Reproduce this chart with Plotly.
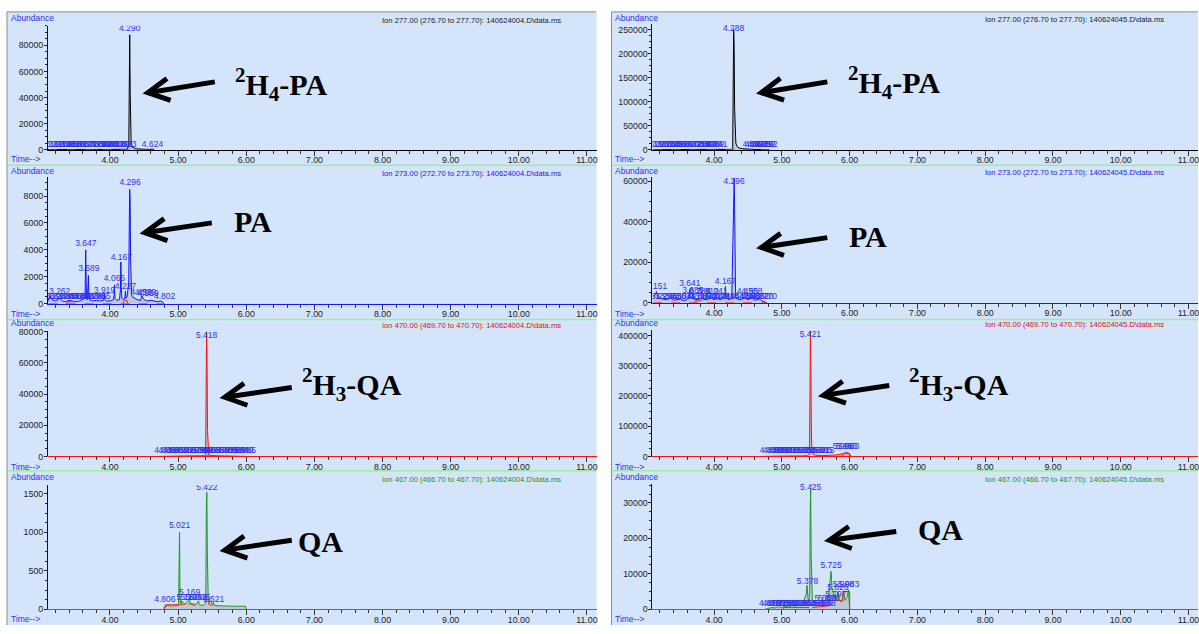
import math
import plotly.graph_objects as go

W, H = 1199, 634

# ---------------- data (time / min, abundance) ----------------
FILE_L = r"140624004.D\data.ms"
FILE_R = r"140624045.D\data.ms"
IONS = ["Ion 277.00 (276.70 to 277.70)", "Ion 273.00 (272.70 to 273.70)",
        "Ion 470.00 (469.70 to 470.70)", "Ion 467.00 (466.70 to 467.70)"]
COMPOUNDS = ["<sup>2</sup>H<sub>4</sub>-PA", "PA", "<sup>2</sup>H<sub>3</sub>-QA", "QA"]

L1_pts = [(3.09,200),(3.15,400),(3.20,250),(3.30,300),(3.40,200),(3.50,350),(3.60,250),(3.70,300),
          (3.80,200),(3.90,300),(4.00,250),(4.10,300),(4.20,350),(4.25,500),(4.276,3000),(4.283,27000),
          (4.290,88000),(4.297,43000),(4.304,9000),(4.311,4000),(4.32,2500),(4.34,1600),(4.37,1000),
          (4.41,700),(4.46,500),(4.52,400),(4.58,350),(4.624,600),(4.65,0)]
L2_pts = [(3.09,200),(3.12,600),(3.15,300),(3.20,200),(3.26,400),(3.30,200),(3.35,150),(3.40,250),
          (3.45,200),(3.50,150),(3.55,200),(3.60,300),(3.63,400),(3.637,1200),(3.644,4000),(3.651,1500),
          (3.658,400),(3.67,300),(3.676,900),(3.683,2100),(3.690,700),(3.70,300),(3.72,250),(3.75,200),
          (3.80,250),(3.85,200),(3.90,250),(3.912,400),(3.919,700),(3.926,300),(3.95,200),(4.00,200),
          (4.05,300),(4.059,600),(4.066,1400),(4.073,400),(4.10,250),(4.14,300),(4.153,1000),(4.160,3100),
          (4.167,1200),(4.174,400),(4.19,300),(4.21,350),(4.220,500),(4.227,950),(4.234,400),(4.25,500),
          (4.275,1500),(4.282,4900),(4.289,8500),(4.296,7800),(4.303,3300),(4.310,1200),(4.317,700),
          (4.33,500),(4.36,400),(4.40,300),(4.45,250),(4.459,400),(4.466,600),(4.50,300),(4.55,200),
          (4.60,250),(4.65,200),(4.70,150),(4.75,200),(4.80,0)]
L3_pts = [(4.70,0),(4.80,300),(4.90,200),(5.00,300),(5.10,250),(5.20,300),(5.30,350),(5.38,500),
          (5.404,1500),(5.411,40000),(5.418,80000),(5.425,60000),(5.432,16000),(5.439,3000),(5.45,1200),
          (5.48,700),(5.52,500),(5.60,400),(5.70,350),(5.80,300),(5.90,300),(6.00,300),(6.05,0)]
L4_pts = [(4.79,0),(4.80,40),(4.85,50),(4.90,40),(4.95,45),(5.00,50),(5.007,80),(5.014,600),(5.021,1000),
          (5.028,150),(5.035,90),(5.05,70),(5.08,60),(5.12,80),(5.16,130),(5.169,160),(5.176,90),(5.20,60),
          (5.25,50),(5.30,110),(5.31,60),(5.35,50),(5.38,60),(5.401,80),(5.408,330),(5.415,1390),
          (5.422,1520),(5.429,730),(5.436,150),(5.443,80),(5.46,60),(5.50,50),(5.521,90),(5.53,50),
          (5.60,45),(5.70,40),(5.80,40),(5.90,40),(5.99,40),(6.00,0)]
R1_pts = [(3.10,500),(3.20,900),(3.30,600),(3.40,800),(3.50,700),(3.60,900),(3.70,700),(3.80,800),
          (3.90,700),(4.00,900),(4.10,800),(4.20,900),(4.26,1000),(4.274,2000),(4.281,102000),
          (4.288,250000),(4.295,219000),(4.302,88000),(4.309,32000),(4.32,14000),(4.34,7000),(4.37,4000),
          (4.42,2500),(4.50,1500),(4.60,1000),(4.70,700),(4.80,500),(4.82,0)]
R2_pts = [(3.10,3000),(3.13,4000),(3.151,5500),(3.17,2500),(3.22,2000),(3.30,1500),(3.36,2500),(3.40,1200),
          (3.50,1800),(3.55,1000),(3.60,1500),(3.634,3000),(3.641,6500),(3.648,2500),(3.678,2500),
          (3.685,4500),(3.692,2000),(3.75,1500),(3.80,2000),(3.90,1500),(3.95,2500),(4.00,1500),(4.05,2000),
          (4.10,1500),(4.160,3000),(4.167,8000),(4.174,2500),(4.22,1500),(4.26,2000),(4.282,37000),
          (4.289,47000),(4.296,61500),(4.303,46700),(4.310,12000),(4.317,3000),(4.33,2000),(4.40,1500),
          (4.456,2500),(4.50,1500),(4.558,2500),(4.60,1200),(4.67,1800),(4.70,1000),(4.78,0)]
R3_pts = [(4.70,0),(4.80,1500),(4.90,1000),(5.00,1500),(5.10,1200),(5.20,1500),(5.30,2000),(5.38,3000),
          (5.407,8000),(5.414,193000),(5.421,415000),(5.428,307000),(5.435,81000),(5.442,22000),(5.46,8000),
          (5.50,4000),(5.60,3000),(5.70,3500),(5.80,5000),(5.90,9000),(5.95,14000),(5.98,12000),(6.00,8000),
          (6.02,0)]
R4_pts = [(4.75,0),(4.80,300),(4.85,500),(4.90,400),(4.95,700),(5.00,500),(5.05,900),(5.10,600),(5.15,1200),
          (5.20,800),(5.25,1500),(5.30,1000),(5.33,2500),(5.36,4500),(5.371,6800),(5.385,3000),(5.40,2500),
          (5.411,6000),(5.418,28000),(5.425,33800),(5.432,15300),(5.439,4000),(5.45,2500),(5.50,1500),
          (5.55,1800),(5.60,2000),(5.65,2500),(5.69,4000),(5.71,8000),(5.725,10700),(5.74,6000),(5.76,4000),
          (5.78,3000),(5.797,4000),(5.81,2500),(5.826,5000),(5.85,2500),(5.88,2000),(5.908,5200),(5.93,2500),
          (5.96,3500),(5.983,5500),(5.995,3000),(6.00,0)]

# integration baselines (red), None = break
L1_red = [(3.10,0),(4.65,0)]
L2_red = [(3.10,0),(4.80,0),None,(3.35,0),(3.40,150),(3.50,150),(3.52,0),None,(4.19,0),(4.21,250),(4.25,250),(4.26,0)]
L3_red = [(5.40,0),(5.40,500),(5.50,500),(5.50,0)]
L4_red = [(4.80,0),(4.82,60),(5.05,60),(5.05,110),(5.10,60),None,(5.15,70),(5.25,70),None,(5.45,60),(5.46,130),(5.50,60)]
R1_red = [(3.10,0),(4.82,0)]
R2_red = [(3.10,0),(4.78,0),None,(3.70,0),(3.72,900),(3.90,900),(3.92,0)]
R3_red = [(5.90,0),(5.90,9000),(6.00,9000),(6.00,0)]
R4_red = [(5.02,0),(5.02,500),(5.40,500),None,(5.45,500),(5.70,1000),(5.70,2500),(5.90,2500),(5.90,5000),(6.00,5000),(6.00,0)]

# retention-time labels (rt, label height)
L1_labels = [(4.290,92500),(4.624,3800)] + [(t,3800) for t in
             [3.162,3.211,3.263,3.314,3.365,3.418,3.469,3.521,3.572,3.624,3.676,3.727,3.779,3.830,3.882,3.934,3.985,4.037,4.088,4.140,4.191,4.233]]
L2_labels = [(3.647,4470),(3.689,2560),(3.919,950),(4.066,1830),(4.167,3440),(4.227,1250),(4.296,9010),
             (4.459,800),(4.519,800),(4.559,700),(4.802,510),(3.262,880)] + [(t,510) for t in
             [3.151,3.210,3.269,3.331,3.389,3.447,3.506,3.563,3.621,3.680,3.738,3.796,3.855]]
L3_labels = [(5.418,77600)] + [(t,3300) for t in
             [4.806,4.866,4.925,4.987,5.046,5.108,5.167,5.229,5.288,5.349,5.388,5.468,5.527,5.589,5.648,5.709,5.768,5.829,5.888,5.949,5.985]]
L4_labels = [(5.021,1086),(5.422,1577),(4.806,128),(5.169,209),(5.131,145),(5.193,145),(5.263,145),(5.315,145),(5.521,128)]
R1_labels = [(4.288,252000)] + [(t,10900) for t in
             [3.151,3.201,3.251,3.302,3.356,3.409,3.461,3.514,3.567,3.620,3.672,3.725,3.778,3.830,3.883,3.936,3.989,4.041,
              4.577,4.612,4.648,4.683,4.719,4.752,4.782]]
R2_labels = [(4.296,60000),(3.151,7950),(3.641,9270),(3.685,5850),(4.167,10400),(3.785,5400),(3.912,5400),(4.041,5400),
             (4.490,5370),(4.558,5370)] + [(t,3070) for t in
             [3.223,3.290,3.363,3.430,3.504,3.571,3.738,3.806,3.873,3.941,4.012,4.078,4.146,4.213,4.426,4.456,4.523,4.588,4.652,4.720,4.770]]
R3_labels = [(5.421,403000),(5.908,32500),(5.953,32500),(5.983,32500)] + [(t,19500) for t in
             [4.830,4.880,4.935,4.990,5.045,5.100,5.155,5.210,5.265,5.320,5.375,5.480,5.530,5.585,5.615]]
R4_labels = [(5.425,34200),(5.378,7780),(5.725,12200),(5.826,5900),(5.797,4200),(5.908,7000),(5.983,7000),
             (5.640,2800),(5.690,2800)] + [(t,1500) for t in
             [4.820,4.870,4.922,4.975,5.028,5.080,5.133,5.186,5.238,5.291,5.344,5.480,5.533,5.586,5.638]]

# ---------------- styling ----------------
BG = "#d4e4fa"
SEP = "#9cee9c"
LABEL_BLUE = "#3232ee"
ROW_COLORS = ["#000000", "#1414ff", "#ff1010", "#1f9a1f"]
TITLE_COLORS = ["#202020", "#2020e0", "#e01010", "#1f8f1f"]
SANS = "Liberation Sans, Arial, sans-serif"
SERIF = "Liberation Serif"
FS_TICK = 8.8
FS_LAB = 8.5
FS_TITLE = 7.6

panels = [
    dict(pts=L1_pts, red=L1_red, labels=L1_labels, col=0, row=0, ymax=95000, dtick=20000),
    dict(pts=L2_pts, red=L2_red, labels=L2_labels, col=0, row=1, ymax=9450, dtick=2000),
    dict(pts=L3_pts, red=L3_red, labels=L3_labels, col=0, row=2, ymax=80300, dtick=20000),
    dict(pts=L4_pts, red=L4_red, labels=L4_labels, col=0, row=3, ymax=1615, dtick=500),
    dict(pts=R1_pts, red=R1_red, labels=R1_labels, col=1, row=0, ymax=262000, dtick=50000),
    dict(pts=R2_pts, red=R2_red, labels=R2_labels, col=1, row=1, ymax=62400, dtick=20000),
    dict(pts=R3_pts, red=R3_red, labels=R3_labels, col=1, row=2, ymax=417000, dtick=100000),
    dict(pts=R4_pts, red=R4_red, labels=R4_labels, col=1, row=3, ymax=35300, dtick=10000),
]

# pixel geometry
COL_PLOT_X = [(48, 597), (653, 1199)]
COL_PANEL_X = [(7, 597), (612, 1199)]
ROW_PLOT_Y = [[(22, 148), (175, 304), (332, 459), (488, 614)],
              [(20, 148), (175, 303), (331, 459), (487, 614)]]
ABUND_Y = [14, 169, 324, 480]
TIME_Y = [157, 314, 470, 624]
TITLE_Y = [[17, 172, 326, 482], [16, 171, 325, 482]]
TITLE_RX = [563, 1167]
SEP_Y = [163.5, 320, 473.5]
XRANGE = [3.09, 11.14]

BIG = [[(233, 82), (232, 221), (300, 386), (296, 545)],
       [(847, 80), (848, 236), (908, 386), (917, 533)]]
ARROWS = [[((215, 79), (148, 90)), ((212, 222), (145, 232)), ((292, 389), (225, 399)), ((292, 544), (225, 554))],
          [((828, 79), (762, 90)), ((828, 237), (762, 247)), ((890, 387), (824, 397)), ((897, 535), (830, 544))]]


def px(x):
    return x / W


def py(y):
    return 1 - y / H


fig = go.Figure()
layout = dict(width=W, height=H, margin=dict(l=0, r=0, t=0, b=0),
              paper_bgcolor="white", plot_bgcolor="rgba(0,0,0,0)", showlegend=False)
shapes = []
annotations = []

# panel backgrounds and separators
for c in range(2):
    x0, x1 = COL_PANEL_X[c]
    shapes.append(dict(type="rect", xref="paper", yref="paper", x0=px(x0), x1=px(x1), y0=py(630), y1=py(8),
                       fillcolor=BG, line=dict(width=0), layer="below"))
    shapes.append(dict(type="line", xref="paper", yref="paper", x0=px(x0), x1=px(x1), y0=py(8), y1=py(8),
                       line=dict(color="#8c8c8c", width=1), layer="below"))
    shapes.append(dict(type="line", xref="paper", yref="paper", x0=px(x0), x1=px(x0), y0=py(8), y1=py(630),
                       line=dict(color="#8c8c8c", width=1), layer="below"))
    for sy in SEP_Y:
        shapes.append(dict(type="line", xref="paper", yref="paper", x0=px(x0 + 1), x1=px(x1), y0=py(sy), y1=py(sy),
                           line=dict(color=SEP, width=1.5), layer="below"))

for i, p in enumerate(panels):
    c, r = p["col"], p["row"]
    n = i + 1
    xa = "x" if n == 1 else f"x{n}"
    ya = "y" if n == 1 else f"y{n}"
    color = ROW_COLORS[r]
    t = [q[0] for q in p["pts"]]
    a = [q[1] for q in p["pts"]]
    fig.add_trace(go.Scatter(x=t, y=a, xaxis=xa, yaxis=ya, mode="lines",
                             line=dict(color=color, width=1), fill="tozeroy",
                             fillcolor="rgba(150,150,150,0.35)", hoverinfo="skip"))
    rt = [q[0] if q else None for q in p["red"]]
    ra = [q[1] if q else None for q in p["red"]]
    fig.add_trace(go.Scatter(x=rt, y=ra, xaxis=xa, yaxis=ya, mode="lines",
                             line=dict(color="#ff2020", width=1, dash="dash" if r < 2 else "solid"),
                             hoverinfo="skip"))
    lt = [q[0] for q in p["labels"]]
    la = [q[1] for q in p["labels"]]
    fig.add_trace(go.Scatter(x=lt, y=la, xaxis=xa, yaxis=ya, mode="text",
                             text=[f"{v:.3f}" for v in lt], textposition="middle center",
                             textfont=dict(family=SANS, size=FS_LAB, color=LABEL_BLUE),
                             cliponaxis=True, hoverinfo="skip"))
    xl, xr = COL_PLOT_X[c]
    yt, yb = ROW_PLOT_Y[c][r]
    layout["xaxis" if n == 1 else f"xaxis{n}"] = dict(
        domain=[px(xl), px(xr)], anchor=ya, range=XRANGE, dtick=1, tick0=0, tickformat=".2f",
        ticks="outside", ticklen=5, tickcolor="#333", showline=True, linecolor=color, linewidth=1,
        showgrid=False, zeroline=False, tickfont=dict(family=SANS, size=FS_TICK, color="#222"),
        ticklabelstandoff=-3, ticklabeloverflow="allow",
        minor=dict(dtick=0.2, ticks="outside", ticklen=3, tickcolor="#333"))
    layout["yaxis" if n == 1 else f"yaxis{n}"] = dict(
        domain=[py(yb), py(yt)], anchor=xa, range=[0, p["ymax"]], dtick=p["dtick"], tickformat="d",
        ticks="outside", ticklen=3, tickcolor="#222", showline=True, linecolor="#111", linewidth=1,
        showgrid=False, zeroline=False, tickfont=dict(family=SANS, size=FS_TICK, color="#222"),
        ticklabelstandoff=-1, ticklabeloverflow="allow",
        minor=dict(dtick=p["dtick"] / 4, ticks="outside", ticklen=2, tickcolor="#222"))

    px0 = COL_PANEL_X[c][0]
    annotations.append(dict(xref="paper", yref="paper", x=px(px0 + 2), y=py(ABUND_Y[r]), text="Abundance",
                            showarrow=False, xanchor="left", yanchor="middle",
                            font=dict(family=SANS, size=FS_LAB, color=LABEL_BLUE)))
    annotations.append(dict(xref="paper", yref="paper", x=px(px0 + 2), y=py(TIME_Y[r]), text="Time-->",
                            showarrow=False, xanchor="left", yanchor="middle",
                            font=dict(family=SANS, size=FS_LAB, color=LABEL_BLUE)))
    fname = FILE_L if c == 0 else FILE_R
    annotations.append(dict(xref="paper", yref="paper", x=px(TITLE_RX[c]), y=py(TITLE_Y[c][r]),
                            text=f"{IONS[r]}: {fname}", showarrow=False, xanchor="right", yanchor="middle",
                            font=dict(family=SANS, size=FS_TITLE, color=TITLE_COLORS[r])))
    bx, by = BIG[c][r]
    annotations.append(dict(xref="paper", yref="paper", x=px(bx), y=py(by), text=f"<b>{COMPOUNDS[r]}</b>",
                            showarrow=False, xanchor="left", yanchor="middle",
                            font=dict(family=SERIF, size=30, color="black")))
    (tx, ty), (hx, hy) = ARROWS[c][r]
    dx, dy = tx - hx, ty - hy
    L = math.hypot(dx, dy)
    ux, uy = dx / L, dy / L
    arms = []
    for s in (1, -1):
        ang = math.radians(28) * s
        ax_ = hx + 24 * (ux * math.cos(ang) - uy * math.sin(ang))
        ay_ = hy + 24 * (ux * math.sin(ang) + uy * math.cos(ang))
        arms.append((ax_, ay_))
    shapes.append(dict(type="path", xref="paper", yref="paper",
                       path=f"M {px(tx)} {py(ty)} L {px(hx)} {py(hy)}",
                       line=dict(color="black", width=5)))
    shapes.append(dict(type="path", xref="paper", yref="paper",
                       path=f"M {px(arms[0][0])} {py(arms[0][1])} L {px(hx)} {py(hy)} L {px(arms[1][0])} {py(arms[1][1])}",
                       line=dict(color="black", width=5)))

layout["shapes"] = shapes
layout["annotations"] = annotations
fig.update_layout(**layout)
fig.write_html("out.html", config={"displayModeBar": False},
               post_script="document.body.style.margin='0px';document.body.style.overflow='hidden';")
